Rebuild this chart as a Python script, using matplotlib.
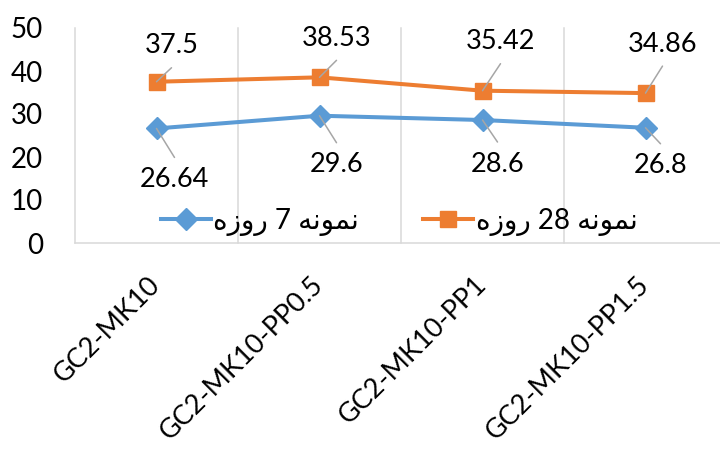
"""
Compressive strength line chart (7-day / 28-day samples), Excel look.
"""
import matplotlib
matplotlib.use("Agg")
import matplotlib.pyplot as plt
import matplotlib.transforms as mtransforms

# ─── Data ─────────────────────────────────────────────────────────────────────
categories = ["GC2-MK10", "GC2-MK10-PP0.5", "GC2-MK10-PP1", "GC2-MK10-PP1.5"]
day7 = [26.64, 29.6, 28.6, 26.8]
day28 = [37.5, 38.53, 35.42, 34.86]
name7 = "نمونه 7 روزه"
name28 = "نمونه 28 روزه"
y_ticks = [0, 10, 20, 30, 40, 50]

# ─── Style ────────────────────────────────────────────────────────────────────
BLUE = "#5B9BD5"
ORANGE = "#ED7D31"
GRID = "#D9D9D9"
LEADER = "#A6A6A6"
NUM_FONT = ["Lato", "DejaVu Sans"]

# data-label offsets in pixels (dx, dy up) as placed in the reference
off28 = [(15, 36), (17, 39), (18, 49), (17, 49)]
off7 = [(18, -51), (17, -49), (15, -44), (15, -38)]


# ─── Minimal Arabic shaping (matplotlib has no bidi / joining) ───────────────
FORMS = {  # isolated, final, initial, medial
    "ن": ("\uFEE5", "\uFEE6", "\uFEE7", "\uFEE8"),
    "م": ("\uFEE1", "\uFEE2", "\uFEE3", "\uFEE4"),
    "ه": ("\uFEE9", "\uFEEA", "\uFEEB", "\uFEEC"),
    "و": ("\uFEED", "\uFEEE", None, None),
    "ر": ("\uFEAD", "\uFEAE", None, None),
    "ز": ("\uFEAF", "\uFEB0", None, None),
}


def shape_word(word):
    out = []
    for i, ch in enumerate(word):
        if ch not in FORMS:
            out.append(ch)
            continue
        prev = word[i - 1] if i > 0 else None
        nxt = word[i + 1] if i + 1 < len(word) else None
        join_prev = prev in FORMS and FORMS[prev][2] is not None
        join_next = FORMS[ch][2] is not None and nxt in FORMS
        if join_prev and join_next:
            out.append(FORMS[ch][3])
        elif join_prev:
            out.append(FORMS[ch][1])
        elif join_next:
            out.append(FORMS[ch][2])
        else:
            out.append(FORMS[ch][0])
    return "".join(out)


def rtl(text):
    words = []
    for w in reversed(text.split(" ")):
        if any(c in FORMS for c in w):
            words.append(shape_word(w)[::-1])
        else:
            words.append(w)
    return " ".join(words)


# ─── Figure ───────────────────────────────────────────────────────────────────
fig = plt.figure(figsize=(7.2, 4.55), dpi=100, facecolor="white")
ax = fig.add_axes([75 / 720, 1 - 243 / 455, 652 / 720, 215 / 455])

x = list(range(len(categories)))

# vertical gridlines between categories
for gx in [-0.5, 0.5, 1.5, 2.5, 3.5]:
    ax.plot([gx, gx], [0, 50], color=GRID, lw=1.1, zorder=1, clip_on=False)

ax.plot(x, day7, color=BLUE, lw=2.9, marker="D", markersize=11,
        markeredgecolor=BLUE, label=rtl(name7), zorder=3)
ax.plot(x, day28, color=ORANGE, lw=2.9, marker="s", markersize=11.5,
        markeredgecolor=ORANGE, label=rtl(name28), zorder=3)

# data labels with leader lines
for vals, offs, sign in [(day28, off28, 1), (day7, off7, -1)]:
    for xi, v, (dx, dy) in zip(x, vals, offs):
        ax.annotate("", xy=(xi, v), xytext=(dx, dy - sign * 22),
                    textcoords="offset pixels",
                    arrowprops=dict(arrowstyle="-", color=LEADER, lw=1.1,
                                    shrinkA=0, shrinkB=0), zorder=4)
        ax.annotate(f"{v:g}", xy=(xi, v), xytext=(dx, dy),
                    textcoords="offset pixels", ha="center", va="center",
                    fontsize=19.5, family=NUM_FONT, color="black", zorder=5)

ax.set_xlim(-0.5, 3.5)
ax.set_ylim(0, 50)
ax.set_yticks(y_ticks)
ax.set_yticklabels([str(t) for t in y_ticks], fontsize=20, family=NUM_FONT)
ax.set_xticks(x)
ax.set_xticklabels(categories, rotation=45, ha="right", va="center",
                   rotation_mode="anchor", fontsize=19.5, family=NUM_FONT)
shift = mtransforms.ScaledTranslation(6 / 100, 0, fig.dpi_scale_trans)
for lbl in ax.get_xticklabels():
    lbl.set_transform(lbl.get_transform() + shift)

ax.tick_params(axis="y", length=0, pad=23)
ax.tick_params(axis="x", length=0, pad=27)
for side in ["top", "right", "left"]:
    ax.spines[side].set_visible(False)
ax.spines["bottom"].set_color(GRID)
ax.spines["bottom"].set_linewidth(1.1)

leg = ax.legend(loc="center", bbox_to_anchor=(0.497, 0.098), ncol=2,
                frameon=False, handlelength=1.8, handletextpad=0.1,
                columnspacing=2.3, borderaxespad=0,
                prop={"family": NUM_FONT, "size": 20})

fig.savefig("out.png", dpi=100, facecolor="white")
